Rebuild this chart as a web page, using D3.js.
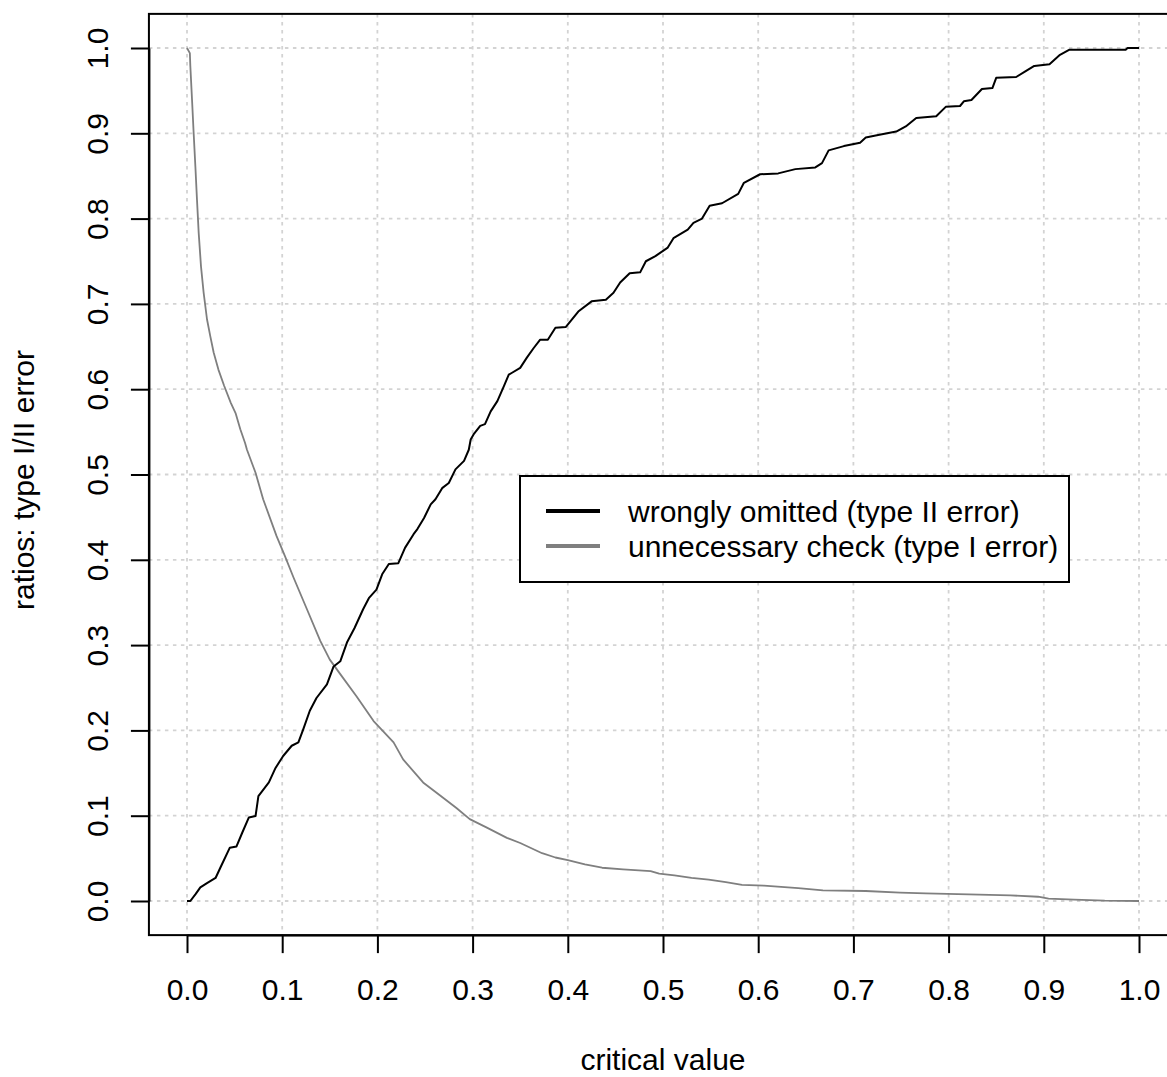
<!DOCTYPE html>
<html>
<head>
<meta charset="utf-8">
<script src="https://cdn.jsdelivr.net/npm/d3@7"></script>
<style>
    body { margin: 0; background: #fff; }
    text { font-family: "Liberation Sans", Arial, Helvetica, sans-serif; }
</style>
</head>
<body>
<div id="chart"></div>
<script>
// wrongly omitted (type II error)
const omittedX = [0, 0.0035, 0.009, 0.014, 0.021, 0.030, 0.035, 0.045, 0.052, 0.058, 0.065, 0.072, 0.075, 0.086,
    0.093, 0.101, 0.110, 0.117, 0.122, 0.129, 0.136, 0.147, 0.154, 0.161, 0.168, 0.176, 0.185, 0.191, 0.199,
    0.205, 0.212, 0.222, 0.229, 0.238, 0.242, 0.249, 0.256, 0.261, 0.268, 0.275, 0.282, 0.291, 0.296, 0.298,
    0.301, 0.308, 0.313, 0.319, 0.326, 0.333, 0.338, 0.341, 0.350, 0.357, 0.364, 0.371, 0.379, 0.387, 0.398,
    0.411, 0.425, 0.440, 0.448, 0.455, 0.465, 0.476, 0.482, 0.492, 0.505, 0.511, 0.526, 0.532, 0.541, 0.549,
    0.562, 0.579, 0.585, 0.602, 0.621, 0.639, 0.660, 0.667, 0.674, 0.690, 0.707, 0.713, 0.726, 0.745, 0.755,
    0.766, 0.787, 0.797, 0.812, 0.816, 0.824, 0.835, 0.846, 0.850, 0.871, 0.881, 0.890, 0.906, 0.917, 0.927,
    0.986, 0.988, 1.0];
const omittedY = [0, 0, 0.008, 0.016, 0.021, 0.027, 0.039, 0.0625, 0.064, 0.080, 0.098, 0.0996, 0.123, 0.139,
    0.156, 0.170, 0.182, 0.186, 0.201, 0.223, 0.238, 0.254, 0.275, 0.281, 0.303, 0.320, 0.342, 0.355, 0.365,
    0.383, 0.395, 0.396, 0.414, 0.430, 0.436, 0.449, 0.465, 0.471, 0.484, 0.490, 0.506, 0.516, 0.529, 0.541,
    0.547, 0.557, 0.559, 0.574, 0.586, 0.604, 0.617, 0.619, 0.625, 0.637, 0.648, 0.658, 0.658, 0.672, 0.673,
    0.691, 0.703, 0.705, 0.713, 0.725, 0.736, 0.737, 0.750, 0.756, 0.766, 0.777, 0.787, 0.795, 0.800, 0.815,
    0.818, 0.829, 0.842, 0.852, 0.853, 0.858, 0.860, 0.865, 0.880, 0.885, 0.889, 0.895, 0.898, 0.902, 0.908,
    0.918, 0.920, 0.931, 0.932, 0.9375, 0.939, 0.952, 0.953, 0.965, 0.966, 0.973, 0.979, 0.981, 0.992, 0.998,
    0.998, 1.0, 1.0];

// unnecessary check (type I error)
const checkX = [0, 0.003, 0.0035, 0.0053, 0.007, 0.0088, 0.0105, 0.0123, 0.0147, 0.0175, 0.021, 0.0245, 0.028,
    0.033, 0.039, 0.046, 0.051, 0.056, 0.061, 0.063, 0.072, 0.080, 0.094, 0.103, 0.112, 0.126, 0.140, 0.150,
    0.161, 0.178, 0.196, 0.217, 0.227, 0.248, 0.269, 0.283, 0.297, 0.315, 0.336, 0.350, 0.373, 0.387, 0.400,
    0.418, 0.436, 0.458, 0.487, 0.496, 0.512, 0.530, 0.548, 0.566, 0.583, 0.606, 0.642, 0.668, 0.713, 0.749,
    0.776, 0.821, 0.865, 0.894, 0.905, 0.932, 0.964, 1.0];
const checkY = [1.0, 0.994, 0.979, 0.939, 0.900, 0.861, 0.822, 0.783, 0.744, 0.713, 0.682, 0.662, 0.643,
    0.623, 0.604, 0.584, 0.572, 0.553, 0.537, 0.529, 0.502, 0.471, 0.428, 0.404, 0.379, 0.342, 0.305, 0.283,
    0.266, 0.240, 0.211, 0.186, 0.166, 0.139, 0.121, 0.109, 0.096, 0.086, 0.074, 0.068, 0.056, 0.051, 0.048,
    0.043, 0.039, 0.037, 0.035, 0.032, 0.030, 0.027, 0.025, 0.022, 0.019, 0.018, 0.015, 0.0125, 0.0117, 0.0098,
    0.009, 0.0078, 0.0066, 0.005, 0.0027, 0.0016, 0.0004, 0.0];

const tickValues = [0, 0.1, 0.2, 0.3, 0.4, 0.5, 0.6, 0.7, 0.8, 0.9, 1.0];
const legendLabels = ["wrongly omitted (type II error)", "unnecessary check (type I error)"];
const seriesColors = ["#000000", "#7f7f7f"];

const width = 1167, height = 1077;
const fontSize = 30;

let svg = d3.select("#chart")
    .append("svg")
        .attr("width", width)
        .attr("height", height);
svg.append("rect").attr("width", width).attr("height", height).attr("fill", "#fff");

// R style: 4% padding on each side of [0,1]
let x = d3.scaleLinear().domain([0, 1]).range([187, 1139]);
let y = d3.scaleLinear().domain([0, 1]).range([901, 48]);
let xLo = x(-0.04), xHi = x(1.04), yLo = y(-0.04), yHi = y(1.04);

// grid
let grid = svg.append("g")
    .attr("stroke", "#d3d3d3")
    .attr("stroke-width", 1.8)
    .attr("stroke-dasharray", "3.5,4.5");
grid.selectAll(".gx")
    .data(tickValues)
    .enter()
    .append("line")
        .attr("x1", d => x(d)).attr("x2", d => x(d))
        .attr("y1", yHi).attr("y2", yLo);
grid.selectAll(".gy")
    .data(tickValues)
    .enter()
    .append("line")
        .attr("x1", xLo).attr("x2", xHi)
        .attr("y1", d => y(d)).attr("y2", d => y(d));

// curves
let line = d3.line()
    .x(d => x(d[0]))
    .y(d => y(d[1]));
let omitted = omittedX.map((v, i) => [v, omittedY[i]]);
let check = checkX.map((v, i) => [v, checkY[i]]);

svg.append("path")
    .datum(check)
    .attr("d", line)
    .attr("fill", "none")
    .attr("stroke", seriesColors[1])
    .attr("stroke-width", 1.8)
    .attr("stroke-linejoin", "round");
svg.append("path")
    .datum(omitted)
    .attr("d", line)
    .attr("fill", "none")
    .attr("stroke", seriesColors[0])
    .attr("stroke-width", 2)
    .attr("stroke-linejoin", "round");

// box
svg.append("rect")
    .attr("x", xLo).attr("y", yHi)
    .attr("width", xHi - xLo).attr("height", yLo - yHi)
    .attr("fill", "none")
    .attr("stroke", "#000")
    .attr("stroke-width", 2);

// x axis
let xAxis = svg.append("g")
    .attr("transform", `translate(0,${yLo})`)
    .call(d3.axisBottom(x).tickValues(tickValues).tickFormat(d3.format(".1f")).tickSize(18).tickSizeOuter(0));
xAxis.selectAll("path, line").attr("stroke", "#000").attr("stroke-width", 2);
xAxis.selectAll("text")
    .attr("y", 65)
    .attr("dy", 0)
    .attr("fill", "#000")
    .style("font-size", fontSize + "px")
    .style("font-family", "'Liberation Sans', Arial, sans-serif");

// y axis, labels turned like R's las=0
let yAxis = svg.append("g")
    .attr("transform", `translate(${xLo},0)`)
    .call(d3.axisLeft(y).tickValues(tickValues).tickFormat(d3.format(".1f")).tickSize(18).tickSizeOuter(0));
yAxis.selectAll("path, line").attr("stroke", "#000").attr("stroke-width", 2);
yAxis.selectAll("text")
    .attr("transform", "rotate(-90)")
    .attr("x", 0)
    .attr("y", -41)
    .attr("dy", 0)
    .style("text-anchor", "middle")
    .attr("fill", "#000")
    .style("font-size", fontSize + "px")
    .style("font-family", "'Liberation Sans', Arial, sans-serif");

// axis titles
svg.append("text")
    .attr("x", (xLo + xHi) / 2)
    .attr("y", 1070)
    .attr("text-anchor", "middle")
    .style("font-size", fontSize + "px")
    .text("critical value");
svg.append("text")
    .attr("transform", "translate(34,480) rotate(-90)")
    .attr("text-anchor", "middle")
    .style("font-size", fontSize + "px")
    .text("ratios: type I/II error");

// legend
let legend = svg.append("g").attr("transform", "translate(520,476)");
legend.append("rect")
    .attr("width", 549).attr("height", 106)
    .attr("fill", "#fff")
    .attr("stroke", "#000")
    .attr("stroke-width", 2);
legend.selectAll(".lline")
    .data(legendLabels)
    .enter()
    .append("line")
        .attr("x1", 26).attr("x2", 80)
        .attr("y1", (d, i) => 35 + i * 35)
        .attr("y2", (d, i) => 35 + i * 35)
        .attr("stroke", (d, i) => seriesColors[i])
        .attr("stroke-width", 3.8);
legend.selectAll(".ltext")
    .data(legendLabels)
    .enter()
    .append("text")
        .attr("x", 108)
        .attr("y", (d, i) => 35 + i * 35)
        .attr("dy", "0.35em")
        .style("font-size", fontSize + "px")
        .text(d => d);
</script>
</body>
</html>
